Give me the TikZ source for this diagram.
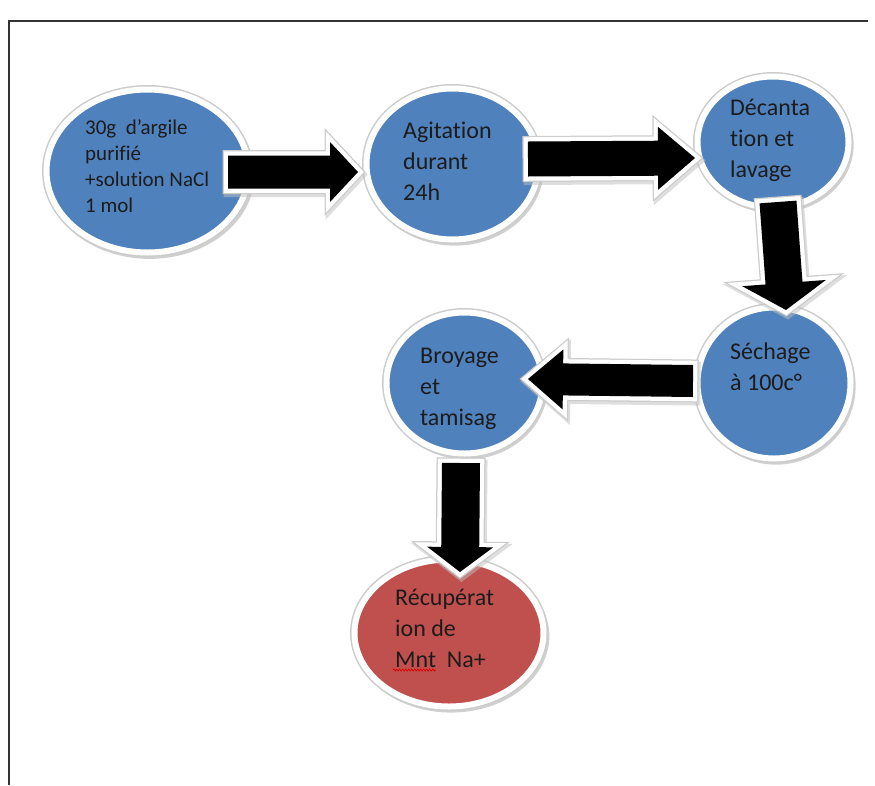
\documentclass[tikz,border=0pt]{standalone}
\usepackage{fontspec}
\setmainfont{Carlito}[Ligatures=NoCommon]
\usetikzlibrary{shapes.geometric,calc,shadows,decorations.pathmorphing}
\definecolor{stepblue}{HTML}{4F81BD}
\definecolor{stepred}{HTML}{C0504D}
\definecolor{inktext}{HTML}{1C1C1C}

\tikzset{
  bubble/.style={ellipse, inner sep=0pt, fill=#1,
    drop shadow={shadow xshift=2pt, shadow yshift=-3pt, shadow scale=1.04,
                 opacity=0.30, fill=black!60},
    preaction={draw=gray!40, line width=9pt},
    draw=white, line width=6pt},
  % multi-line labels are anchored at the baseline of their last line
  label text/.style={anchor=base west, align=left, inner sep=0pt,
    text=inktext, font=\fontsize{24}{31}\selectfont},
  small text/.style={font=\fontsize{21}{26}\selectfont},
  arrowbody/.style={fill=black, line join=miter, miter limit=10,
    preaction={draw=black!25, line width=12pt, opacity=0.5,
               transform canvas={shift={(1.5pt,-2.5pt)}}},
    preaction={draw=gray!40, line width=11pt},
    preaction={draw=white, line width=8.5pt}},
  frame/.style={draw=black!80, line width=1.4pt},
  spellmark/.style={draw=red!85!black, line width=0.7pt,
    decorate, decoration={zigzag, segment length=3pt, amplitude=1pt}}
}

% block arrow: name, tail, tip, shaft half width, head half width, head length
\newcommand\blockarrow[6]{%
  \coordinate (#1-h) at ($(#3)!#6!(#2)$);
  \path[arrowbody] ($(#2)!#4!90:(#3)$) -- ($(#1-h)!#4!90:(#3)$)
    -- ($(#1-h)!#5!90:(#3)$) -- (#3) -- ($(#1-h)!#5!-90:(#3)$)
    -- ($(#1-h)!#4!-90:(#3)$) -- ($(#2)!#4!-90:(#3)$) -- cycle;
}

\begin{document}
\begin{tikzpicture}[x=1pt, y=-1pt]
  \useasboundingbox[fill=white] (0,0) rectangle (875,785);

  % page frame (top and left edges)
  \coordinate (fl) at (9,785);
  \coordinate (fc) at (9,21);
  \coordinate (fr) at (868,21);
  \draw[frame] (fl) -- (fc) -- (fr);

  % process steps
  \node[bubble=stepblue, minimum width=202pt, minimum height=163pt] (e1) at (147.5,171) {};
  \node[bubble=stepblue, minimum width=172pt, minimum height=151pt] (e2) at (452.5,164) {};
  \node[bubble=stepblue, minimum width=151pt, minimum height=131pt] (e3) at (773,142) {};
  \node[bubble=stepblue, minimum width=153pt, minimum height=151pt] (e4) at (774,383) {};
  \node[bubble=stepblue, minimum width=156pt, minimum height=141pt] (e5) at (464.5,383) {};
  \node[bubble=stepred,  minimum width=189pt, minimum height=147pt] (e6) at (449,633) {};

  % arrow end points
  \coordinate (a1s) at (228,172);   \coordinate (a1t) at (358,172);
  \coordinate (a2s) at (528,159);   \coordinate (a2t) at (695,158);
  \coordinate (a3s) at (778,202);   \coordinate (a3t) at (786,310);
  \coordinate (a4s) at (693,381);   \coordinate (a4t) at (528,379);
  \coordinate (a5s) at (461,463);   \coordinate (a5t) at (460,572);

  \blockarrow{a1}{a1s}{a1t}{16.5pt}{30pt}{28pt}
  \blockarrow{a2}{a2s}{a2t}{17.5pt}{31.5pt}{37pt}
  \blockarrow{a3}{a3s}{a3t}{18.5pt}{42pt}{27pt}
  \blockarrow{a4}{a4s}{a4t}{16pt}{30pt}{35pt}
  \blockarrow{a5}{a5s}{a5t}{19pt}{33pt}{25pt}

  % step labels
  \node[label text, small text] (t1) at (85,212) {30g\ \ d’argile\\purifié\\+solution NaCl\\1 mol};
  \node[label text] (t2) at (403,200) {Agitation\\durant\\24h};
  \node[label text] (t3) at (730,177) {Décanta\\tion et\\lavage};
  \node[label text] (t4) at (730,390) {Séchage\\à 100c°};
  \node[label text] (t5) at (420,425) {Broyage\\et\\tamisag};
  \node[label text] (t6) at (395,667) {Récupérat\\ion de\\Mnt\ \ Na+};

  % spelling mark under "Mnt"
  \coordinate (sp1) at (393,670);
  \coordinate (sp2) at (436,670);
  \draw[spellmark] (sp1) -- (sp2);
\end{tikzpicture}
\end{document}
